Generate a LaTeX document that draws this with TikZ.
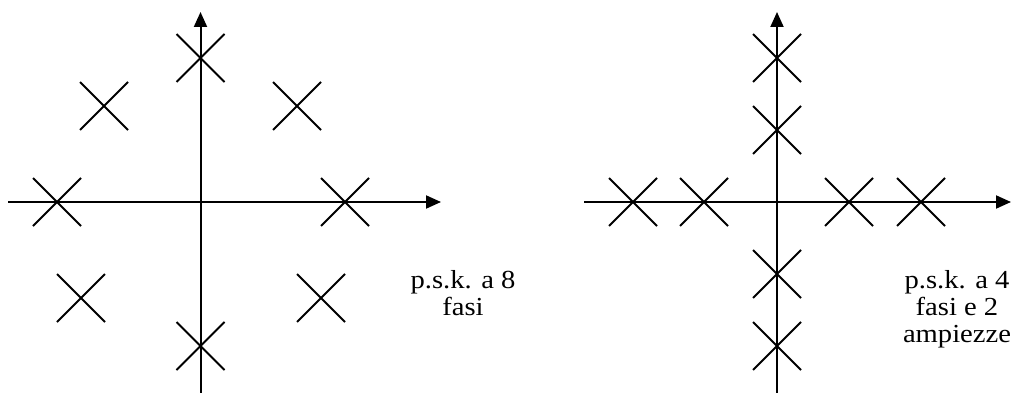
\documentclass[tikz,border=0pt]{standalone}
\usepackage{fontspec}
\setmainfont{Liberation Serif}
\newfontfamily\labfont[FakeStretch=1.1]{Liberation Serif}
\usetikzlibrary{arrows.meta,shapes.misc}
\tikzset{
  axis/.style={line width=2pt,-{Triangle[length=15pt,width=13pt]}},
  pt/.style={cross out,draw,line width=2pt,minimum size=48pt,inner sep=0pt,outer sep=0pt},
  lab/.style={align=center,font=\labfont\fontsize{26}{27}\selectfont,inner sep=0pt}
}
\begin{document}
\begin{tikzpicture}[x=1pt,y=-1pt]
\useasboundingbox (0,0) rectangle (1011,393);
% left diagram
\coordinate (lxs) at (8,202);
\coordinate (lxe) at (441,202);
\coordinate (lys) at (200.5,393);
\coordinate (lye) at (200.5,12);
\draw[axis] (lxs) -- (lxe);
\draw[axis] (lys) -- (lye);
\node[pt] (l1) at (200.5,58) {};
\node[pt] (l2) at (104,106) {};
\node[pt] (l3) at (297,106) {};
\node[pt] (l4) at (57,202) {};
\node[pt] (l5) at (345,202) {};
\node[pt] (l6) at (81,298) {};
\node[pt] (l7) at (321,298) {};
\node[pt] (l8) at (200.5,346) {};
\node[lab,anchor=base] (lt) at (463,315) {p.s.k. a 8\\fasi};
% right diagram
\coordinate (rxs) at (584,202);
\coordinate (rxe) at (1011,202);
\coordinate (rys) at (777,393);
\coordinate (rye) at (777,12);
\draw[axis] (rxs) -- (rxe);
\draw[axis] (rys) -- (rye);
\node[pt] (r1) at (777,58) {};
\node[pt] (r2) at (777,130) {};
\node[pt] (r3) at (777,274) {};
\node[pt] (r4) at (777,346) {};
\node[pt] (r5) at (633,202) {};
\node[pt] (r6) at (704,202) {};
\node[pt] (r7) at (849,202) {};
\node[pt] (r8) at (921,202) {};
\node[lab,anchor=base] (rt) at (957,342) {p.s.k. a 4\\fasi e 2\\ampiezze};
\end{tikzpicture}
\end{document}
